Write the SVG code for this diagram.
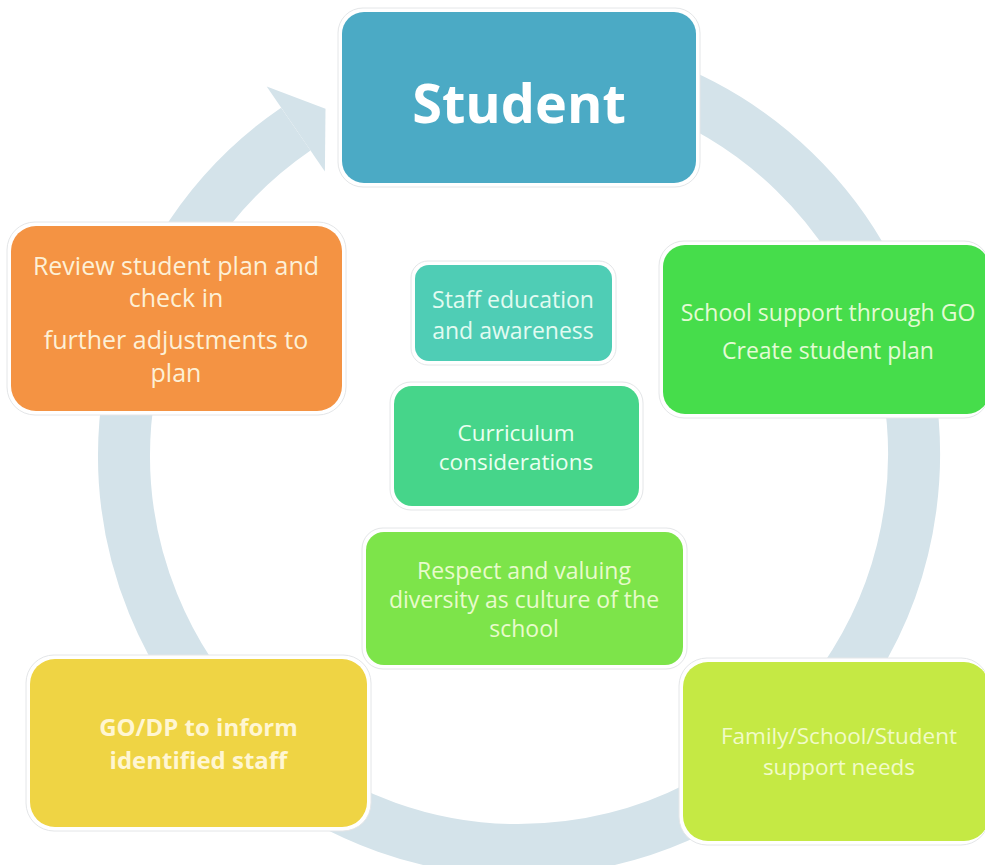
<svg xmlns="http://www.w3.org/2000/svg" width="985" height="865" viewBox="0 0 985 865">
<style>
.halo{fill:#ffffff;stroke:#e4e6e8;stroke-width:1}
.t{font-family:"Open Sans","Noto Sans","Liberation Sans",sans-serif;text-anchor:middle}
.ring{fill:none;stroke:#d4e3ea;stroke-width:52}
</style>
<rect width="985" height="865" fill="#ffffff"/>
<g id="connectors">
<path class="ring" d="M 654.1 83.8 A 395 395 0 1 1 295.8 129.1"/>
<polygon points="266.7,86.6 325.5,108.8 324.9,171.6" fill="#d4e3ea"/>
</g>
<g id="student">
<rect class="halo" x="338" y="8" width="362" height="179" rx="25"/>
<rect x="342" y="12" width="354" height="171" rx="22" fill="#4baac5"/>
<text class="t" x="519" y="123" font-size="54" font-weight="bold" fill="#ffffff">Student</text>
</g>
<g id="review">
<rect class="halo" x="7" y="222" width="339" height="193" rx="28"/>
<rect x="11" y="226" width="331" height="185" rx="25" fill="#f49343"/>
<g class="t" font-size="25" fill="#fdf0d6">
<text x="176" y="275">Review student plan and</text>
<text x="176" y="307">check in</text>
<text x="176" y="349">further adjustments to</text>
<text x="176" y="382">plan</text>
</g>
</g>
<g id="staff">
<rect class="halo" x="411" y="261" width="205" height="104" rx="17"/>
<rect x="415" y="265" width="197" height="96" rx="14" fill="#4fcdb5"/>
<g class="t" font-size="23" fill="#e2fbf1">
<text x="513" y="308">Staff education</text>
<text x="513" y="339">and awareness</text>
</g>
</g>
<g id="curriculum">
<rect class="halo" x="390" y="382" width="253" height="128" rx="21"/>
<rect x="394" y="386" width="245" height="120" rx="18" fill="#46d58a"/>
<g class="t" font-size="22.5" fill="#eafff0">
<text x="516" y="441">Curriculum</text>
<text x="516" y="470">considerations</text>
</g>
</g>
<g id="respect">
<rect class="halo" x="362" y="528" width="325" height="141" rx="21"/>
<rect x="366" y="532" width="317" height="133" rx="18" fill="#7de44a"/>
<g class="t" font-size="23" fill="#e8fbcc">
<text x="524" y="579">Respect and valuing</text>
<text x="524" y="608">diversity as culture of the</text>
<text x="524" y="637">school</text>
</g>
</g>
<g id="school-support">
<rect class="halo" x="659" y="241" width="330" height="177" rx="25"/>
<rect x="663" y="245" width="326" height="169" rx="22" fill="#46dd4b"/>
<g class="t" font-size="23" fill="#e3fbd4">
<text x="828" y="321">School support through GO</text>
<text x="828" y="359">Create student plan</text>
</g>
</g>
<g id="go-dp">
<rect class="halo" x="26" y="655" width="345" height="176" rx="28"/>
<rect x="30" y="659" width="337" height="168" rx="25" fill="#efd444"/>
<g class="t" font-size="24" font-weight="bold" fill="#fff6d2">
<text x="198.5" y="736">GO/DP to inform</text>
<text x="198.5" y="769">identified staff</text>
</g>
</g>
<g id="family">
<rect class="halo" x="679" y="658" width="310" height="187" rx="28"/>
<rect x="683" y="662" width="306" height="179" rx="25" fill="#c5e944"/>
<g class="t" font-size="22.5" fill="#f1fbc8">
<text x="839" y="744">Family/School/Student</text>
<text x="839" y="775">support needs</text>
</g>
</g>
</svg>
